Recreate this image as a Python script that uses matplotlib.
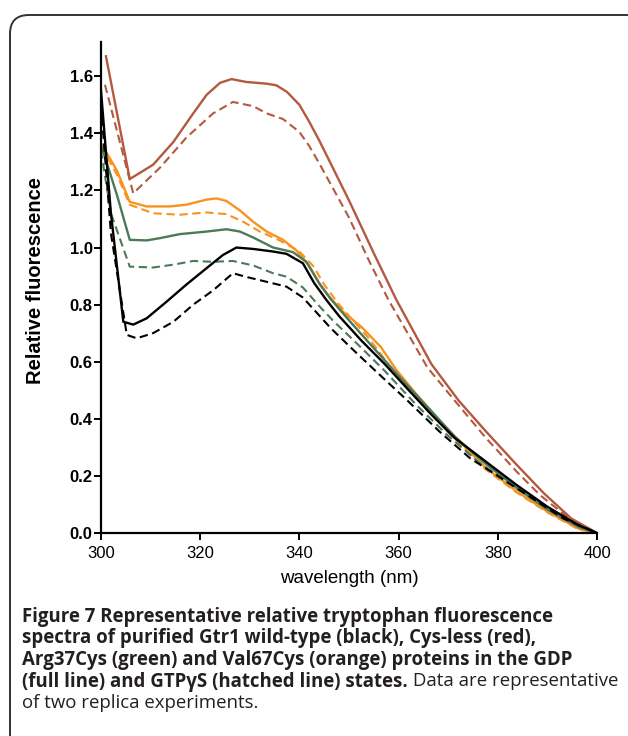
import numpy as np
import matplotlib
matplotlib.use("Agg")
import matplotlib.pyplot as plt
from matplotlib.patches import FancyBboxPatch

## Series (wavelength in nm, relative fluorescence)
# wild-type (black)
wt_gdp_wl = [300, 302, 304.5, 306.5, 309.2, 313.2, 317.2, 321.3, 324.6, 327.3, 330.7, 334.7, 337.4,
             340.7, 343, 345.5, 348, 352.5, 357.2, 361.9, 366.6, 371.3, 377.6, 383.8, 390, 396.3, 400]
wt_gdp = [1.55, 1.12, 0.74, 0.73, 0.752, 0.81, 0.87, 0.928, 0.974, 1.0, 0.995, 0.986, 0.978,
          0.945, 0.875, 0.815, 0.76, 0.674, 0.592, 0.503, 0.415, 0.333, 0.25, 0.168, 0.092, 0.027, 0.0]
wt_gtp_wl = [300, 302, 305.2, 307.2, 310.5, 314.6, 318.6, 322.6, 326.6, 329.3, 333.4, 337.4, 340.7,
             344, 346.3, 351, 355.7, 361.9, 368.2, 374.4, 380.7, 387, 393.2, 399.5, 400]
wt_gtp = [1.50, 1.05, 0.694, 0.682, 0.70, 0.74, 0.80, 0.85, 0.91, 0.897, 0.88, 0.863, 0.825,
          0.762, 0.718, 0.639, 0.562, 0.462, 0.356, 0.262, 0.192, 0.121, 0.051, 0.004, 0.0]

# Cys-less (red)
cl_gdp_wl = [301, 305.8, 310.5, 314.6, 318.6, 321.3, 324, 326.3, 329.3, 333.4, 335.4, 337.5, 340,
             342, 344, 346, 350, 355, 359.6, 366.6, 372.1, 377.6, 383.8, 389.3, 394.8, 400]
cl_gdp = [1.67, 1.24, 1.29, 1.37, 1.47, 1.535, 1.577, 1.59, 1.58, 1.574, 1.568, 1.545, 1.50,
          1.44, 1.375, 1.305, 1.165, 0.98, 0.815, 0.592, 0.464, 0.356, 0.239, 0.139, 0.051, 0.0]
cl_gtp_wl = [300.8, 306.5, 311.9, 317.2, 322.6, 326.6, 330.7, 333.4, 336.7, 340, 342, 344, 347,
             350, 354, 358, 365.8, 371.3, 377.6, 383.8, 388.5, 394.8, 400]
cl_gtp = [1.57, 1.19, 1.28, 1.385, 1.47, 1.51, 1.495, 1.47, 1.45, 1.405, 1.355, 1.295, 1.2,
          1.105, 0.955, 0.815, 0.58, 0.464, 0.333, 0.215, 0.133, 0.045, 0.0]

# Arg37Cys (green)
rc_gdp_wl = [300, 303.2, 305.8, 309.2, 311.9, 315.9, 321.3, 325.3, 328, 330.7, 334.7, 338.7, 341.4,
             344, 346.3, 350, 354.1, 360.3, 366.6, 371.3, 377.6, 383.8, 390, 396.3, 400]
rc_gdp = [1.36, 1.185, 1.027, 1.025, 1.033, 1.047, 1.056, 1.064, 1.056, 1.035, 1.0, 0.984, 0.95,
          0.875, 0.82, 0.745, 0.665, 0.545, 0.427, 0.338, 0.242, 0.158, 0.082, 0.021, 0.0]
rc_gtp_wl = [300, 302, 305.8, 310.5, 314.6, 318.6, 322.6, 326.6, 330.7, 334.7, 337.4, 340.7, 344,
             347, 351, 357.2, 363.5, 369.7, 376, 382.2, 388.5, 394.8, 400]
rc_gtp = [1.34, 1.12, 0.933, 0.93, 0.94, 0.953, 0.95, 0.953, 0.937, 0.91, 0.898, 0.86, 0.795,
          0.74, 0.674, 0.568, 0.45, 0.345, 0.25, 0.174, 0.104, 0.039, 0.0]

# Val67Cys (orange)
vc_gdp_wl = [300, 303.2, 305.8, 309.2, 313.9, 317.2, 321.3, 323.3, 325.3, 328, 330.7, 333.4, 336.7,
             339.4, 342, 344.2, 346.3, 349, 352.5, 356.4, 359.6, 363.5, 368.2, 372.9, 377.6, 383.8,
             390, 396.3, 400]
vc_gdp = [1.366, 1.27, 1.16, 1.144, 1.144, 1.15, 1.168, 1.172, 1.163, 1.13, 1.09, 1.056, 1.027,
          0.99, 0.935, 0.868, 0.822, 0.772, 0.722, 0.652, 0.57, 0.488, 0.394, 0.31, 0.228, 0.146,
          0.075, 0.015, 0.0]
vc_gtp_wl = [300, 303.2, 305.8, 310.5, 315.9, 321.3, 325.3, 328.7, 332, 336, 340, 342.8, 345,
             348, 354.1, 358.8, 365.1, 369.7, 377.6, 383.8, 390, 396.3, 400]
vc_gtp = [1.354, 1.256, 1.15, 1.12, 1.115, 1.123, 1.117, 1.09, 1.056, 1.025, 0.986, 0.935, 0.87,
          0.80, 0.68, 0.572, 0.452, 0.358, 0.222, 0.142, 0.072, 0.013, 0.0]

black = "#000000"
red = "#b3593f"
green = "#4c7a58"
orange = "#f7931e"

plt.rcParams["font.family"] = ["Liberation Sans Narrow", "Liberation Sans", "DejaVu Sans"]

fig = plt.figure(figsize=(6.28, 7.36), dpi=100, facecolor="white")

# rounded frame around the figure (runs off the right and bottom edges)
frame = FancyBboxPatch((10 / 628, -0.1), 1.2, 1 - 15 / 736 + 0.1,
                       boxstyle="round,pad=0,rounding_size=0.03",
                       transform=fig.transFigure, fill=False,
                       edgecolor="#333333", lw=1.4, mutation_aspect=628 / 736)
fig.patches.append(frame)

ax = fig.add_axes([101 / 628, 1 - 533 / 736, (597 - 101) / 628, (533 - 42) / 736])

solid = dict(lw=1.7, ls="-")
dash = dict(lw=1.5, ls=(0, (4, 2.2)))
ax.plot(cl_gdp_wl, cl_gdp, c=red, **solid)
ax.plot(cl_gtp_wl, cl_gtp, c=red, **dash)
ax.plot(vc_gdp_wl, vc_gdp, c=orange, **solid)
ax.plot(vc_gtp_wl, vc_gtp, c=orange, **dash)
ax.plot(rc_gdp_wl, rc_gdp, c=green, **solid)
ax.plot(rc_gtp_wl, rc_gtp, c=green, **dash)
ax.plot(wt_gdp_wl, wt_gdp, c=black, **solid)
ax.plot(wt_gtp_wl, wt_gtp, c=black, **dash)

ax.set_xlim(300, 400)
ax.set_ylim(0, 1.72)
ax.set_xticks([300, 320, 340, 360, 380, 400])
ax.set_yticks(np.arange(0, 1.61, 0.2))
ax.set_yticklabels(["{:.1f}".format(v) for v in np.arange(0, 1.61, 0.2)], fontweight="bold")
ax.spines["top"].set_visible(False)
ax.spines["right"].set_visible(False)
for s in ["left", "bottom"]:
    ax.spines[s].set_linewidth(1.6)
ax.tick_params(direction="out", length=5, width=1.4, labelsize=12)
ax.tick_params(axis="x", pad=4.5)
ax.tick_params(axis="y", pad=1)
ax.set_xlabel("wavelength (nm)", fontsize=13.5, labelpad=6)
ax.set_ylabel("Relative fluorescence", fontsize=14.5, fontweight="bold",
              family=["Liberation Sans", "DejaVu Sans"])
ax.yaxis.set_label_coords(-0.113, 0.515)
ax.patch.set_alpha(0)

# caption
cap_font = ["Open Sans", "DejaVu Sans"]
cap_color = "#231f20"
cap_lines = [
    ("Figure 7 Representative relative tryptophan fluorescence", ""),
    ("spectra of purified Gtr1 wild-type (black), Cys-less (red),", ""),
    ("Arg37Cys (green) and Val67Cys (orange) proteins in the GDP", ""),
    ("(full line) and GTP\u03b3S (hatched line) states.", " Data are representative"),
    ("", "of two replica experiments."),
]
y0 = 1 - 617 / 736
dy = 21.5 / 736
for i, (bold_part, plain_part) in enumerate(cap_lines):
    y = y0 - i * dy
    x = 22 / 628
    if bold_part:
        t = fig.text(x, y, bold_part, fontsize=13.4, fontweight="bold", family=cap_font,
                     color=cap_color, va="center")
        if plain_part:
            fig.canvas.draw()
            bb = t.get_window_extent()
            x = bb.x1 / fig.bbox.width
    if plain_part:
        fig.text(x, y, plain_part, fontsize=13.4, family=cap_font,
                 color=cap_color, va="center")

plt.savefig("out.png", dpi=100, facecolor="white")
